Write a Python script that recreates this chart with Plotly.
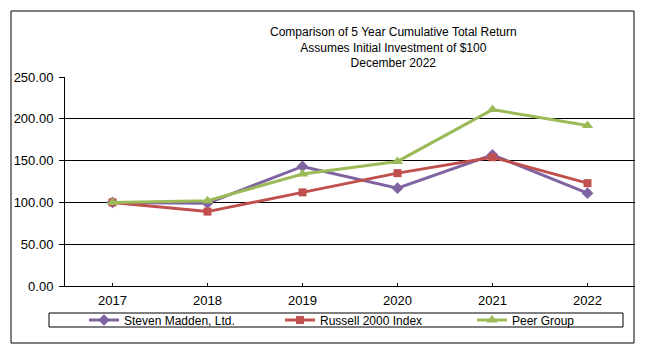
import plotly.graph_objects as go

years = ["2017", "2018", "2019", "2020", "2021", "2022"]
madden = [100.0, 99.0, 143.0, 117.0, 157.0, 111.0]
russell = [100.0, 89.0, 112.0, 135.0, 154.0, 123.0]
peer = [100.0, 102.0, 134.0, 149.0, 211.0, 192.0]
y_ticks = [0, 50, 100, 150, 200, 250]
y_tick_labels = ["0.00", "50.00", "100.00", "150.00", "200.00", "250.00"]

W, H = 648, 355
L, R, T, B = 65, 13, 77, 69
pw, ph = W - L - R, H - T - B

def px(x):
    return (x - L) / pw

def py(y):
    return (H - B - y) / ph

FONT = "Liberation Sans, Arial, sans-serif"

fig = go.Figure()
series = [
    ("Steven Madden, Ltd.", madden, "#8064A2", "diamond", 9, "legend", 84),
    ("Russell 2000 Index", russell, "#C0504D", "square", 8, "legend2", 280),
    ("Peer Group", peer, "#9BBB59", "triangle-up", 10, "legend3", 472),
]
legend_layout = {}
for name, vals, col, sym, sz, leg, lx in series:
    fig.add_trace(go.Scatter(
        x=years, y=vals, name=name, mode="lines+markers",
        line=dict(color=col, width=3),
        marker=dict(symbol=sym, size=sz, color=col),
        legend=leg,
    ))
    legend_layout[leg] = dict(
        orientation="h", x=px(lx), y=py(320), xanchor="left", yanchor="middle",
        bgcolor="rgba(0,0,0,0)", borderwidth=0, font=dict(size=12),
        itemwidth=30, tracegroupgap=0,
    )

fig.update_layout(
    width=W, height=H,
    margin=dict(l=L, r=R, t=T, b=B),
    paper_bgcolor="white", plot_bgcolor="white",
    font=dict(family=FONT, size=12, color="black"),
    showlegend=True,
    xaxis=dict(
        type="category", range=[-0.5, 5.5], showgrid=False, showline=True,
        linecolor="black", linewidth=1,
        ticks="inside", ticklen=3, tickcolor="black",
        tickfont=dict(size=13), fixedrange=True, ticklabelstandoff=2,
    ),
    yaxis=dict(
        range=[0, 250], tickvals=y_ticks, ticktext=y_tick_labels,
        showgrid=True, gridcolor="black", gridwidth=1,
        showline=True, linecolor="black", linewidth=1,
        ticks="outside", ticklen=5, tickcolor="black",
        zeroline=False, tickfont=dict(size=13), ticklabelstandoff=3,
    ),
    annotations=[dict(
        text="Comparison of 5 Year Cumulative Total Return<br>Assumes Initial Investment of $100<br>December 2022",
        xref="paper", yref="paper", x=px(393), y=py(23), xanchor="center", yanchor="top",
        showarrow=False, font=dict(size=12, family=FONT), align="center",
    )],
    shapes=[
        dict(type="rect", xref="paper", yref="paper", x0=px(11), x1=px(634), y0=py(343), y1=py(11),
             line=dict(color="black", width=1), layer="below"),
        dict(type="rect", xref="paper", yref="paper", x0=px(49), x1=px(623), y0=py(327), y1=py(313),
             line=dict(color="black", width=1), layer="below"),
    ],
)
fig.update_layout(**legend_layout)

fig.write_html("out.html", config={"displayModeBar": False},
               post_script="document.body.style.margin='0';")
